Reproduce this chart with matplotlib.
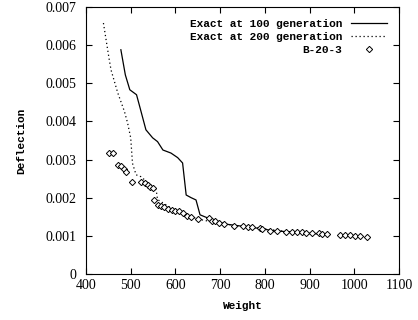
import numpy as np
import matplotlib.pyplot as plt

# Exact solution at 100 generations (weight, deflection)
gen100_w = [478, 488, 498, 513, 519, 534, 549, 560, 572, 590, 605, 616, 624, 635, 646,
            655, 680, 710, 750, 790, 820, 860, 900, 940]
gen100_d = [0.00588, 0.00522, 0.00483, 0.00470, 0.00444, 0.00378, 0.00357, 0.00347,
            0.00325, 0.00317, 0.00305, 0.00291, 0.00207, 0.00200, 0.00194,
            0.00155, 0.00143, 0.00131, 0.00125, 0.00119, 0.00113, 0.00110, 0.00106, 0.00104]

# Exact solution at 200 generations
gen200_w = [439, 452, 456, 471, 486, 493, 500, 504, 512, 523, 557, 560,
            600, 650, 700, 750, 800, 850, 900, 940]
gen200_d = [0.00658, 0.00562, 0.00535, 0.00475, 0.00426, 0.00396, 0.00357, 0.00290,
            0.00260, 0.00255, 0.00220, 0.00195,
            0.00166, 0.00144, 0.00132, 0.00125, 0.00118, 0.00111, 0.00106, 0.00104]

# B-20-3 results
b_w = [452, 461, 471, 478, 484, 490, 503, 523, 531, 538, 543, 549, 551, 562, 568, 575,
       583, 592, 600, 609, 616, 625, 635, 651, 674, 681, 689, 698, 709, 730, 752, 763,
       771, 789, 793, 812, 826, 847, 860, 871, 882, 892, 905, 920, 927, 938, 968, 979,
       990, 1002, 1013, 1028]
b_d = [0.00318, 0.00318, 0.00286, 0.00282, 0.00275, 0.00268, 0.00242, 0.00242, 0.00238,
       0.00234, 0.00229, 0.00225, 0.00194, 0.00181, 0.00177, 0.00175, 0.00170, 0.00168,
       0.00166, 0.00165, 0.00159, 0.00152, 0.00150, 0.00143, 0.00146, 0.00140, 0.00139,
       0.00133, 0.00131, 0.00126, 0.00126, 0.00123, 0.00123, 0.00120, 0.00118, 0.00113,
       0.00113, 0.00111, 0.00110, 0.00109, 0.00109, 0.00108, 0.00108, 0.00107, 0.00105,
       0.00104, 0.00102, 0.00102, 0.00101, 0.00099, 0.00099, 0.00097]

fig = plt.figure(figsize=(4.18, 3.2), dpi=100)
ax = fig.add_axes([0.2057, 0.144, 0.749, 0.834])

ax.plot(gen100_w, gen100_d, color='black', lw=0.9, label='Exact at 100 generation')
ax.plot(gen200_w, gen200_d, color='black', lw=0.9, ls=(0, (1, 2.2)), label='Exact at 200 generation')
ax.plot(b_w, b_d, ls='none', marker='D', ms=3.2, mfc='white', mec='black', mew=0.7,
        label='B-20-3')

ax.set_xlim(400, 1100)
ax.set_ylim(0, 0.007)
ax.set_xticks(np.arange(400, 1101, 100))
ax.set_yticks(np.arange(0, 0.0071, 0.001))
ax.set_yticklabels(['0'] + ['%.3f' % v for v in np.arange(0.001, 0.0071, 0.001)])

for lab in ax.get_xticklabels() + ax.get_yticklabels():
    lab.set_fontfamily('Liberation Serif')
    lab.set_fontsize(10)
ax.tick_params(direction='in', length=4, width=0.8, top=True, right=True)
ax.tick_params(axis='y', pad=7)
ax.tick_params(axis='x', pad=4)

ax.set_xlabel('Weight', family='Liberation Mono', weight='bold', fontsize=8, labelpad=6)
ax.set_ylabel('Deflection', family='Liberation Mono', weight='bold', fontsize=8, labelpad=14)

leg = ax.legend(loc='upper right', frameon=False, markerfirst=False, handlelength=3.2,
                prop={'family': 'Liberation Mono', 'weight': 'bold', 'size': 8},
                labelspacing=0.25, borderaxespad=0.7, handletextpad=0.8)
for t in leg.get_texts():
    t.set_ha('right')

fig.savefig('out.png', dpi=100)
